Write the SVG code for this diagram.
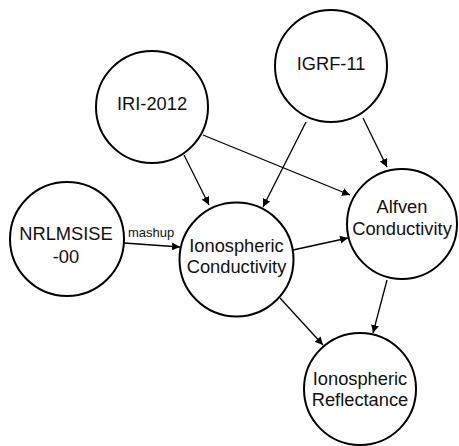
<svg xmlns="http://www.w3.org/2000/svg" width="459" height="446" viewBox="0 0 459 446">
<style>
.node circle{fill:#fff;stroke:#000;stroke-width:2}
.node text{font-family:"Liberation Sans",Arial,sans-serif;font-size:18.3px;fill:#111;text-anchor:middle}
.edges line{stroke:#000;stroke-width:1.3;marker-end:url(#ah)}
.lbl{font-family:"Liberation Sans",Arial,sans-serif;font-size:13px;fill:#111}
</style>
<defs>
<marker id="ah" viewBox="0 0 10 10" refX="10" refY="5" markerWidth="8" markerHeight="8" markerUnits="userSpaceOnUse" orient="auto">
<path d="M0,0 L10,5 L0,10 Z" fill="#000"/>
</marker>
</defs>
<rect width="459" height="446" fill="#fff"/>
<g class="edges">
<line x1="184" y1="155" x2="209" y2="205"/>
<line x1="203" y1="135" x2="350" y2="195"/>
<line x1="306" y1="122" x2="263" y2="207"/>
<line x1="363" y1="118" x2="387" y2="167"/>
<line x1="124" y1="243" x2="180" y2="247"/>
<line x1="293" y1="250" x2="348" y2="238"/>
<line x1="280" y1="298" x2="323" y2="345"/>
<line x1="387" y1="280" x2="373" y2="333"/>
<text class="lbl" x="128" y="237">mashup</text>
</g>
<g class="node" id="igrf"><circle cx="331" cy="66" r="56"/><text x="331" y="70">IGRF-11</text></g>
<g class="node" id="iri"><circle cx="152" cy="107" r="56"/><text x="152" y="110">IRI-2012</text></g>
<g class="node" id="nrl"><circle cx="67" cy="239" r="57"/><text x="66" y="240">NRLMSISE</text><text x="66" y="263">-00</text></g>
<g class="node" id="ionc"><circle cx="236.5" cy="259.5" r="57"/><text x="236.5" y="252">Ionospheric</text><text x="236.5" y="273">Conductivity</text></g>
<g class="node" id="alf"><circle cx="402" cy="224" r="55"/><text x="402" y="213">Alfven</text><text x="402" y="235">Conductivity</text></g>
<g class="node" id="refl"><circle cx="360" cy="389" r="56"/><text x="360" y="385">Ionospheric</text><text x="360" y="406">Reflectance</text></g>
</svg>
